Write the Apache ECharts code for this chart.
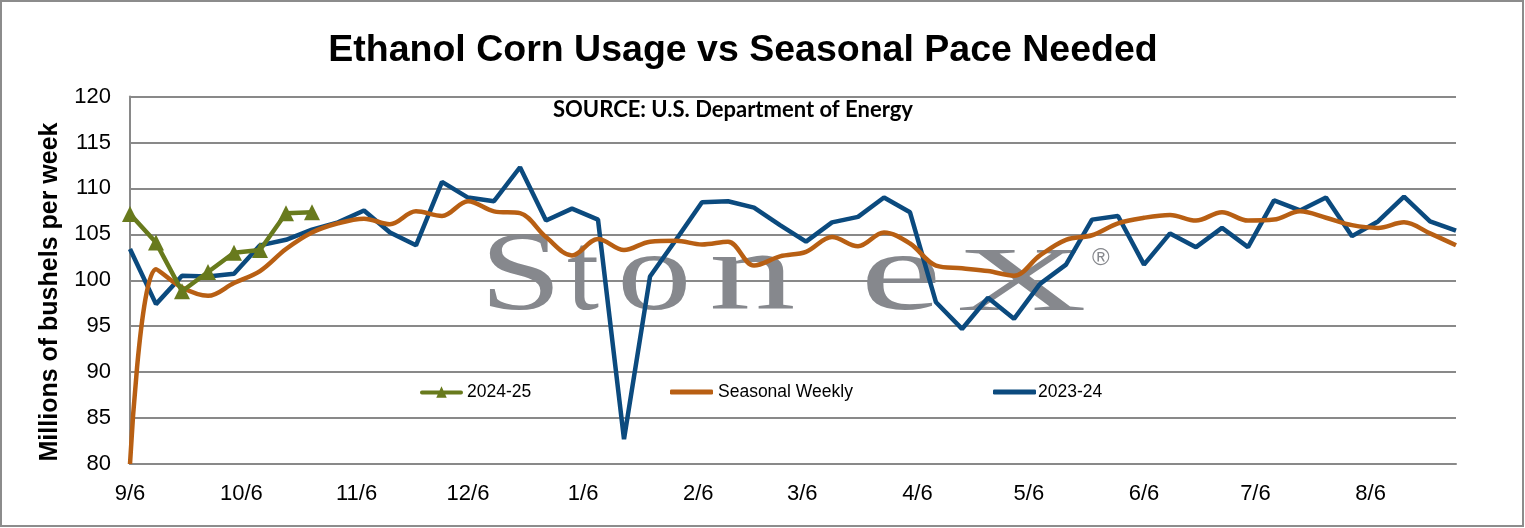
<!DOCTYPE html>
<html><head><meta charset="utf-8">
<script src="https://cdn.jsdelivr.net/npm/echarts@6/dist/echarts.min.js"></script>
<style>html,body{margin:0;padding:0;background:#fff}#c{width:1525px;height:528px}</style>
</head><body><div id="c"></div>
<script>
// Week-ending dates (Fridays) of the marketing year
const weekEnding = ['2024-09-06','2024-09-13','2024-09-20','2024-09-27','2024-10-04','2024-10-11','2024-10-18','2024-10-25',
 '2024-11-01','2024-11-08','2024-11-15','2024-11-22','2024-11-29','2024-12-06','2024-12-13','2024-12-20','2024-12-27',
 '2025-01-03','2025-01-10','2025-01-17','2025-01-24','2025-01-31','2025-02-07','2025-02-14','2025-02-21','2025-02-28',
 '2025-03-07','2025-03-14','2025-03-21','2025-03-28','2025-04-04','2025-04-11','2025-04-18','2025-04-25',
 '2025-05-02','2025-05-09','2025-05-16','2025-05-23','2025-05-30','2025-06-06','2025-06-13','2025-06-20','2025-06-27',
 '2025-07-04','2025-07-11','2025-07-18','2025-07-25','2025-08-01','2025-08-08','2025-08-15','2025-08-22','2025-08-29'];

const season2425 = [107.2,104.1,98.8,100.9,103.0,103.3,107.3,107.4];

const seasonalWeekly = [80.0,101.2,99.2,98.3,99.7,101.0,103.4,105.2,106.2,106.7,106.1,107.5,107.0,108.6,107.5,107.3,
 104.7,102.7,104.5,103.3,104.2,104.3,103.9,104.2,101.6,102.6,103.1,104.7,103.7,105.2,104.0,101.6,101.3,101.0,100.5,
 102.7,104.4,104.9,106.2,106.8,107.1,106.5,107.4,106.5,106.6,107.5,106.8,106.0,105.7,106.3,105.1,103.8];

const season2324 = [103.4,97.4,100.5,100.4,100.7,103.8,104.4,105.5,106.3,107.6,105.2,103.8,110.7,109.0,108.6,112.3,
 106.5,107.8,106.6,82.7,100.4,104.4,108.5,108.6,107.9,106.0,104.2,106.3,106.9,109.0,107.4,97.6,94.7,98.1,95.8,
 99.6,101.7,106.6,107.0,101.7,105.1,103.6,105.7,103.6,108.7,107.6,109.0,104.8,106.4,109.1,106.4,105.4];

const tickDates = ['2024-09-06','2024-10-06','2024-11-06','2024-12-06','2025-01-06','2025-02-06',
 '2025-03-06','2025-04-06','2025-05-06','2025-06-06','2025-07-06','2025-08-06'];
const tickLabels = ['9/6','10/6','11/6','12/6','1/6','2/6','3/6','4/6','5/6','6/6','7/6','8/6'];
const yTicks = [80,85,90,95,100,105,110,115,120];

const seriesNames = ['2024-25','Seasonal Weekly','2023-24'];
const chartTitle = 'Ethanol Corn Usage vs Seasonal Pace Needed';
const sourceText = 'SOURCE: U.S. Department of Energy';
const yTitle = 'Millions of bushels per week';

function ts(d){ const p=d.split('-').map(Number); return Date.UTC(p[0],p[1]-1,p[2]); }
const xs = weekEnding.map(ts);
const tickTs = tickDates.map(ts);
const labelMap = new Map(tickTs.map((t,i)=>[t,tickLabels[i]]));
const pair = vals => vals.map((v,i)=>[xs[i],v]);

const SANS = '"Liberation Sans", Arial, sans-serif';
const GRID = '#898989';
const C_BLUE = '#0b4a7e', C_ORANGE = '#b85f13', C_GREEN = '#687a1d';

const chart = echarts.init(document.getElementById('c'), null, {renderer:'canvas'});

const wm = '#86888d';
function letter(ch, x, y, size, sx){
  return {type:'text', x:x, y:y, scaleX:sx, z:1, silent:true,
    style:{text:ch, fill:wm, font:'normal '+size+'px "Liberation Serif", "DejaVu Serif", serif',
      textAlign:'left', textVerticalAlign:'bottom'}};
}
const legendText = {color:'#000', fontFamily:SANS, fontSize:17.5};
// line with a small triangle marker, for the 2024-25 legend key
const lineTriangleIcon = 'path://M1,5.5h41a1.5,1.5 0 0 1 0,4h-41a1.5,1.5 0 0 1 0,-4z M21.5,1 L27,13 L16,13z';

chart.setOption({
  animation:false,
  backgroundColor:'#fff',
  grid:{left:130, right:69, top:96.5, bottom:64, containLabel:false},
  xAxis:{type:'value', min:xs[0], max:xs[xs.length-1],
    axisLine:{show:true, lineStyle:{color:GRID, width:2}},
    axisTick:{show:false},
    splitLine:{show:false},
    axisLabel:{customValues:tickTs, formatter:v=>labelMap.get(v)||'', margin:19,
      color:'#000', fontFamily:SANS, fontSize:22}},
  yAxis:{type:'value', min:80, max:120, interval:5,
    axisLine:{show:true, lineStyle:{color:GRID, width:2}},
    axisTick:{show:false},
    splitLine:{show:true, lineStyle:{color:GRID, width:2}},
    axisLabel:{customValues:yTicks, margin:19, color:'#000', fontFamily:SANS, fontSize:22}},
  legend:[
    {data:[{name:seriesNames[0], icon:lineTriangleIcon}], left:420, top:383, padding:0, itemWidth:43, itemHeight:14, itemGap:0,
      textStyle:Object.assign({padding:[0,0,0,-1]}, legendText)},
    {data:[{name:seriesNames[1], icon:'roundRect'}], left:670, top:383, padding:0, itemWidth:43, itemHeight:5, itemGap:0,
      textStyle:Object.assign({padding:[0,0,0,0]}, legendText)},
    {data:[{name:seriesNames[2], icon:'roundRect'}], left:993, top:383, padding:0, itemWidth:43, itemHeight:5, itemGap:0,
      textStyle:Object.assign({padding:[0,0,0,-3]}, legendText)}
  ],
  graphic:[
    {type:'rect', z:0, silent:true, shape:{x:1, y:1, width:1522, height:525},
      style:{fill:'none', stroke:'#8c8c8c', lineWidth:2}},
    {type:'text', x:743, y:51, z:5, style:{text:chartTitle, fill:'#000',
      font:'bold 37.5px "Liberation Sans", Arial, sans-serif', textAlign:'center', textVerticalAlign:'middle'}},
    {type:'text', x:733, y:110, z:5, style:{text:sourceText, fill:'#000',
      font:'bold 22px Lato, "Open Sans", sans-serif', textAlign:'center', textVerticalAlign:'middle'}},
    {type:'text', x:50, y:292, rotation:Math.PI/2, z:5, style:{text:yTitle, fill:'#000',
      font:'bold 25px "Liberation Sans", Arial, sans-serif', textAlign:'center', textVerticalAlign:'middle'}},
    letter('S', 480, 336, 113, 1.3),
    letter('t', 567, 336, 113, 1.02),
    letter('o', 617, 336, 113, 1.32),
    letter('n', 709, 336, 113, 1.53),
    letter('e', 860, 336, 113, 1.63),
    letter('X', 956, 332, 91, 1.99),
    {type:'text', x:1092, y:258, z:1, silent:true, style:{text:'®', fill:wm,
      font:'normal 24px "Liberation Sans", Arial, sans-serif', textAlign:'left', textVerticalAlign:'middle'}}
  ],
  series:[
    {name:seriesNames[2], type:'line', data:pair(season2324), symbol:'none', z:3,
      lineStyle:{color:C_BLUE, width:4.5}, itemStyle:{color:C_BLUE}},
    {name:seriesNames[1], type:'line', data:pair(seasonalWeekly), symbol:'none', smooth:0.35, z:3,
      lineStyle:{color:C_ORANGE, width:4.5}, itemStyle:{color:C_ORANGE}},
    {name:seriesNames[0], type:'line', data:pair(season2425), symbol:'triangle', symbolSize:16, z:4,
      lineStyle:{color:C_GREEN, width:4.5}, itemStyle:{color:C_GREEN}}
  ]
});
</script></body></html>
